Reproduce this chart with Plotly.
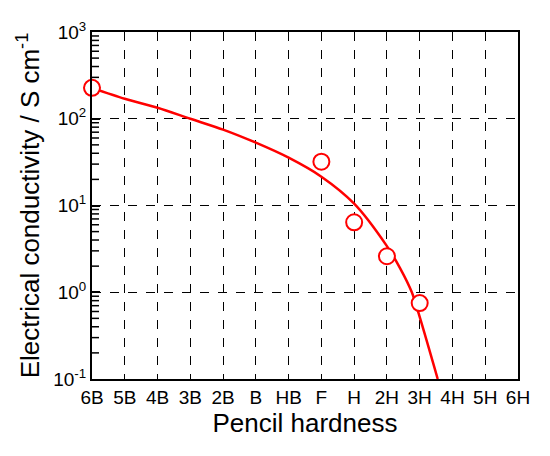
import plotly.graph_objects as go

# ---- data ----
hardness_labels = ["6B", "5B", "4B", "3B", "2B", "B", "HB", "F", "H", "2H", "3H", "4H", "5H", "6H"]
measured_hardness = ["6B", "F", "H", "2H", "3H"]
measured_conductivity = [227, 32, 6.4, 2.6, 0.75]

# fitted curve (position on hardness scale, conductivity)
fit_position = [0, 1, 2, 3, 4, 5, 6, 7, 8, 9, 9.4, 9.76, 10, 10.55]
fit_conductivity = [227, 170, 134, 100, 75, 53, 35.6, 21.5, 10.5, 3.4, 1.9, 1.0, 0.52, 0.1]

y_tickvals = [0.1, 1, 10, 100, 1000]
y_ticktext = ["10<sup>-1</sup>", "10<sup>0</sup>", "10<sup>1</sup>", "10<sup>2</sup>", "10<sup>3</sup>"]
y_minor_tickvals = [m * d for d in [0.1, 1, 10, 100] for m in range(2, 10)]

idx = {lab: i for i, lab in enumerate(hardness_labels)}
measured_pos = [idx[h] for h in measured_hardness]

FONT = "Arial, Liberation Sans, sans-serif"

fig = go.Figure()
# minor tick marks on the left spine (outer half clipped by the plot area)
fig.add_trace(go.Scatter(
    x=[0] * len(y_minor_tickvals), y=y_minor_tickvals, mode="markers",
    marker=dict(symbol="line-ew-open", size=10, color="black",
                line=dict(color="black", width=1.5)),
    showlegend=False, hoverinfo="skip",
))
fig.add_trace(go.Scatter(
    x=fit_position, y=fit_conductivity, mode="lines",
    line=dict(color="#ff0000", width=2.5, shape="spline", smoothing=0.8),
    showlegend=False, hoverinfo="skip",
))
fig.add_trace(go.Scatter(
    x=measured_pos, y=measured_conductivity, mode="markers",
    marker=dict(symbol="circle", size=16, color="white",
                line=dict(color="#ff0000", width=2)),
    cliponaxis=False, showlegend=False,
))

# page body has an 8px margin, so the figure is sized/offset to compensate
fig.update_layout(
    width=534, height=440,
    margin=dict(l=84, r=24, t=24, b=69),
    paper_bgcolor="white", plot_bgcolor="white",
    font=dict(family=FONT, color="black", size=19),
    xaxis=dict(
        range=[0, 13], automargin=False,
        tickvals=list(range(len(hardness_labels))),
        ticktext=hardness_labels,
        showgrid=True, gridcolor="black", griddash="dash", gridwidth=1.3,
        showline=True, linecolor="black", linewidth=2, mirror=True,
        ticks="", zeroline=False,
        tickfont=dict(size=19, family=FONT),
        title=dict(text="Pencil hardness", font=dict(size=26, family=FONT), standoff=4),
    ),
    yaxis=dict(
        type="log", range=[-1, 3], automargin=False,
        tickmode="array", tickvals=y_tickvals, ticktext=y_ticktext,
        showgrid=True, gridcolor="black", griddash="dash", gridwidth=1.3,
        showline=True, linecolor="black", linewidth=2, mirror=True,
        ticks="inside", ticklen=8, tickwidth=2, tickcolor="#000000",
        zeroline=False,
        tickfont=dict(size=19, family=FONT),
        title=dict(text="Electrical conductivity / S cm<sup>-1</sup>",
                   font=dict(size=26, family=FONT), standoff=6),
    ),
)

fig.write_html("out.html")
